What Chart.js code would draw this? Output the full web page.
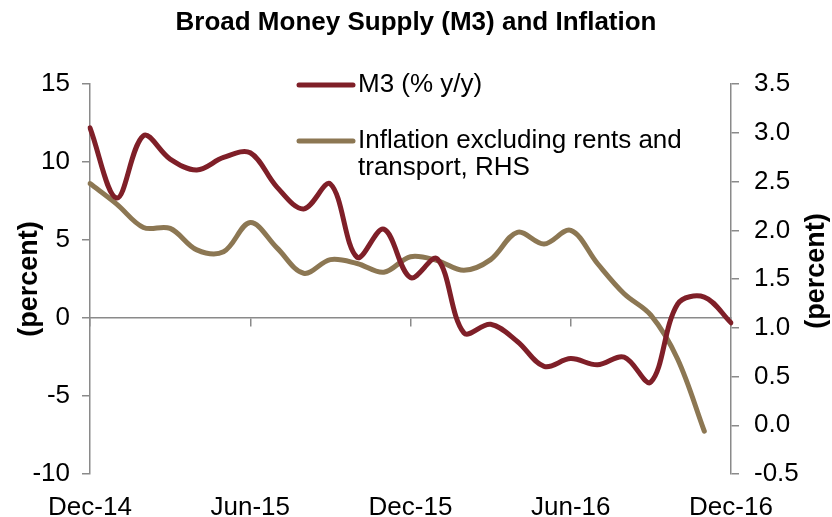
<!DOCTYPE html>
<html><head><meta charset="utf-8">
<script src="https://cdn.jsdelivr.net/npm/chart.js@4.4.0/dist/chart.umd.min.js"></script>
<style>html,body{margin:0;padding:0;background:#fff}#wrap{width:832px;height:517px}</style>
</head><body><div id="wrap"><canvas id="c" width="832" height="517"></canvas></div>
<script>
const months = ['Dec-14','Jan-15','Feb-15','Mar-15','Apr-15','May-15','Jun-15','Jul-15','Aug-15','Sep-15','Oct-15','Nov-15',
  'Dec-15','Jan-16','Feb-16','Mar-16','Apr-16','May-16','Jun-16','Jul-16','Aug-16','Sep-16','Oct-16','Nov-16','Dec-16'];
const shownLabels = ['Dec-14','Jun-15','Dec-15','Jun-16','Dec-16'];
const m3Values = [12.2, 7.7, 11.7, 10.2, 9.5, 10.3, 10.6, 8.4, 7.0, 8.6, 3.9, 5.7, 2.6, 3.8, -0.95, -0.4, -1.5, -3.1, -2.6, -3.0, -2.5, -4.1, 0.9, 1.35, -0.3];
const inflationValues = [2.48, 2.27, 2.03, 2.02, 1.80, 1.78, 2.08, 1.82, 1.56, 1.70, 1.66, 1.57, 1.73, 1.69, 1.59, 1.70, 1.98, 1.86, 2.00, 1.66, 1.35, 1.13, 0.68, -0.06];
const m3Label = 'M3 (% y/y)';
const inflationLabel = ['Inflation excluding rents and', 'transport, RHS'];
const titleText = 'Broad Money Supply (M3) and Inflation';
const axisTitle = '(percent)';

const FONT = "'Liberation Sans', Arial, sans-serif";
const M3_COLOR = '#7f1f28';
const INF_COLOR = '#8c7753';
const AXIS = '#8a8a8a';

const legendPlugin = {
  id: 'customLegend',
  afterDraw(chart) {
    const ctx = chart.ctx;
    const ds = chart.data.datasets;
    const items = [{ds: ds[0], lines: [m3Label], y: 85}, {ds: ds[1], lines: inflationLabel, y: 141}];
    ctx.save();
    ctx.font = "26px " + FONT;
    ctx.textBaseline = 'middle';
    ctx.fillStyle = '#000';
    items.forEach(it => {
      ctx.beginPath();
      ctx.strokeStyle = it.ds.borderColor;
      ctx.lineWidth = 5;
      ctx.lineCap = 'round';
      ctx.moveTo(299, it.y); ctx.lineTo(353, it.y);
      ctx.stroke();
      it.lines.forEach((t, k) => ctx.fillText(t, 358, it.y + k * 27));
    });
    // right axis title, reading bottom-to-top
    ctx.translate(817, (chart.chartArea.top + chart.chartArea.bottom) / 2 - 8);
    ctx.rotate(-Math.PI / 2);
    ctx.font = "bold 27px " + FONT;
    ctx.textAlign = 'center';
    ctx.fillText(axisTitle, 0, 0);
    ctx.restore();
  }
};

const tickVisible = c => shownLabels.includes(months[c.index]) ? AXIS : 'rgba(0,0,0,0)';

new Chart(document.getElementById('c'), {
  type: 'line',
  data: {
    labels: months,
    datasets: [
      {label: m3Label, data: m3Values, yAxisID: 'y', borderColor: M3_COLOR, borderWidth: 5, pointRadius: 0, tension: 0.35, borderCapStyle: 'round', borderJoinStyle: 'round', fill: false},
      {label: inflationLabel.join(' '), data: inflationValues, yAxisID: 'y2', borderColor: INF_COLOR, borderWidth: 5, pointRadius: 0, tension: 0.35, borderCapStyle: 'round', borderJoinStyle: 'round', fill: false}
    ]
  },
  options: {
    responsive: false, animation: false, devicePixelRatio: 1,
    layout: {padding: 0},
    plugins: {
      legend: {display: false},
      tooltip: {enabled: false},
      title: {display: true, text: titleText, color: '#000', font: {family: FONT, size: 26, weight: 'bold'}, padding: {top: 7, bottom: 46}}
    },
    scales: {
      x: {type: 'category', position: 'bottom', offset: false,
        grid: {display: false, drawTicks: false}, border: {display: false},
        ticks: {autoSkip: false, maxRotation: 0, minRotation: 0, color: '#000', font: {family: FONT, size: 26}, padding: 18,
          callback: (v, i) => shownLabels.includes(months[i]) ? months[i] : ''},
        afterFit: s => { s.height = 43; }
      },
      x0: {type: 'category', position: {y: 0}, offset: false,
        grid: {drawOnChartArea: false, drawTicks: true, tickLength: 8, color: tickVisible, tickColor: tickVisible, lineWidth: 1.5},
        border: {color: AXIS, width: 1.5},
        ticks: {autoSkip: false, maxRotation: 0, callback: () => ''}
      },
      y: {position: 'left', min: -10, max: 15,
        ticks: {stepSize: 5, color: '#000', font: {family: FONT, size: 26}, padding: 12},
        grid: {drawOnChartArea: false, tickLength: 8, color: AXIS, lineWidth: 1.5},
        border: {color: AXIS, width: 1.5},
        title: {display: true, text: axisTitle, color: '#000', font: {family: FONT, size: 27, weight: 'bold'}, padding: {top: 13, bottom: 0}},
        afterFit: s => { s.width = 90; }
      },
      y2: {position: 'right', min: -0.5, max: 3.5,
        ticks: {stepSize: 0.5, color: '#000', font: {family: FONT, size: 26}, padding: 15, callback: v => Number(v).toFixed(1)},
        grid: {drawOnChartArea: false, tickLength: 8, color: AXIS, lineWidth: 1.5},
        border: {color: AXIS, width: 1.5},
        afterFit: s => { s.width = 101; }
      }
    }
  },
  plugins: [legendPlugin]
});
</script>
</body></html>
